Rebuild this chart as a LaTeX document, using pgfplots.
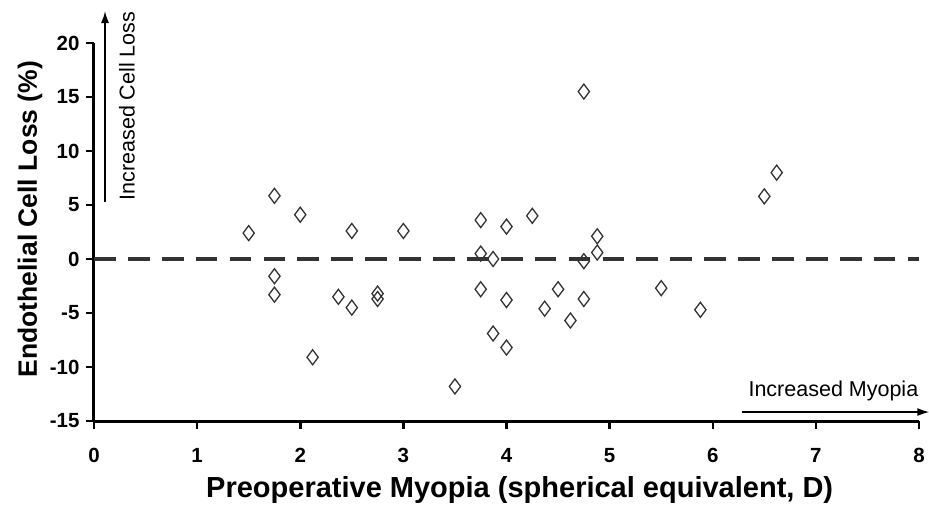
\documentclass[border=0pt]{standalone}
\usepackage{pgfplots}
\pgfplotsset{compat=1.18}
\usepackage{fontspec}
\setmainfont{Liberation Sans}
\usetikzlibrary{arrows.meta}
\definecolor{mk}{HTML}{333333}
\begin{document}
\begin{tikzpicture}
\path[use as bounding box] (-94pt,-94pt) rectangle (835pt,421pt);
\begin{axis}[
  scale only axis,
  width=825pt, height=378pt,
  xmin=0, xmax=8, ymin=-15, ymax=20,
  axis x line=bottom, axis y line=left,
  axis line style={-, line width=3pt, black},
  xtick={0,1,...,8}, ytick={-15,-10,...,20},
  tick align=outside, major tick length=8pt,
  tick style={line width=2.5pt, black},
  /pgf/number format/assume math mode=true,
  ticklabel style={font=\fontsize{20.5}{20.5}\selectfont\bfseries},
  xticklabel style={yshift=-16pt},
  yticklabel style={xshift=-3pt},
  xlabel={Preoperative Myopia (spherical equivalent, D)},
  ylabel={Endothelial Cell Loss (\%)},
  xlabel style={font=\fontsize{29}{29}\selectfont\bfseries, at={(axis description cs:0.516,-0.1825)}, anchor=center},
  ylabel style={font=\fontsize{26.5}{26.5}\selectfont\bfseries, at={(axis description cs:-0.0776,0.534)}, anchor=center, rotate=0},
  clip=false,
]
\addplot[mk, line width=3.5pt, dash pattern=on 21.7pt off 12.2pt, forget plot] coordinates {(0,0) (8,0)};
\addplot[only marks, mark=diamond, mark size=7.5pt, mark options={draw=mk, fill=white, line width=1.3pt}] coordinates {
(1.5,2.4) (1.75,5.85) (1.75,-1.6) (1.75,-3.3) (2.0,4.1) (2.12,-9.1)
(2.37,-3.5) (2.5,-4.5) (2.5,2.6) (2.75,-3.2) (2.75,-3.7) (3.0,2.6)
(3.5,-11.8) (3.75,3.6) (3.75,0.5) (3.75,-2.8) (3.87,0.0) (3.87,-6.9)
(4.0,3.0) (4.0,-3.8) (4.0,-8.2) (4.25,4.0) (4.37,-4.6) (4.5,-2.8)
(4.62,-5.7) (4.75,15.5) (4.75,-0.2) (4.75,-3.7) (4.88,2.1) (4.88,0.6)
(5.5,-2.7) (5.88,-4.7) (6.5,5.8) (6.62,8.0)
};
\draw[line width=1.5pt, -{Latex[length=12pt,width=8pt]}] (axis cs:0.107,5.28) -- (axis cs:0.107,22.96);
\node[rotate=90, font=\fontsize{21.5}{21.5}\selectfont] at (axis cs:0.32,14.17) {Increased Cell Loss};
\draw[line width=1.5pt, -{Latex[length=12pt,width=8pt]}] (axis cs:6.285,-14.17) -- (axis cs:8.1,-14.17);
\node[font=\fontsize{21.5}{21.5}\selectfont] at (axis cs:7.17,-12.2) {Increased Myopia};
\end{axis}
\end{tikzpicture}
\end{document}
